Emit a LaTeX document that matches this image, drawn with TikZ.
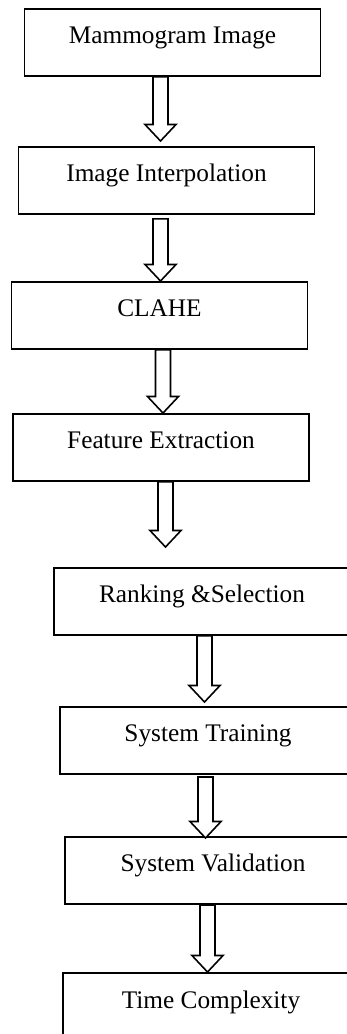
\documentclass[tikz,border=0pt]{standalone}
\usepackage{fontspec}
\setmainfont{Liberation Serif}
\usetikzlibrary{
    calc,
    positioning
}
\definecolor{lineBlack}{RGB}{0, 0, 0}
\definecolor{bgWhite}{RGB}{255, 255, 255}
\def\picW{6.94}
\def\picH{20.68}
\def\shaftW{0.15cm}
\def\headW{0.31cm}
\def\headL{0.33cm}
\tikzset{
    stage/.style={
        rectangle,
        draw=lineBlack,
        line width=1.1pt,
        fill=bgWhite,
        minimum width=5.92cm,
        inner xsep=0pt,
        inner ysep=0pt,
        text height=0.70cm,
        text depth=0.64cm,
        text=lineBlack,
        font=\fontsize{14.4}{17}\selectfont
    },
    blockArrow/.style={
        draw=lineBlack,
        line width=0.9pt,
        fill=bgWhite,
        line join=miter
    }
}
% hollow block arrow: source, target, x shift, start offset, tip offset
\newcommand{\flowArrow}[5]{%
    \draw[blockArrow] let \p1=($(#1.south)+(#3,#4)$), \p2=($(#2.north)+(0,#5)$) in
        (\x1-\shaftW,\y1) -- (\x1-\shaftW,\y2+\headL) -- (\x1-\headW,\y2+\headL)
        -- (\x1,\y2) -- (\x1+\headW,\y2+\headL) -- (\x1+\shaftW,\y2+\headL)
        -- (\x1+\shaftW,\y1) -- cycle;
}

\begin{document}
\begin{tikzpicture}
    \useasboundingbox (0,0) rectangle (\picW, \picH);
    \fill[bgWhite] (0,0) rectangle (\picW, \picH);
    \clip (0,0) rectangle (\picW, \picH);

    % Pipeline stages
    \node[stage] (mammo) at (3.45, 19.83) {Mammogram Image};
    \node[stage] (interp) at (3.33, 17.07) {Image Interpolation};
    \node[stage] (clahe) at (3.19, 14.37) {CLAHE};
    \node[stage] (feature) at (3.22, 11.73) {Feature Extraction};
    \node[stage] (ranking) at (4.04, 8.65) {Ranking \&Selection};
    \node[stage] (training) at (4.16, 5.87) {System Training};
    \node[stage] (validation) at (4.26, 3.27) {System Validation};
    \node[stage] (complexity) at (4.22, 0.55) {Time Complexity};

    % Arrows between stages
    \flowArrow{mammo}{interp}{-0.24}{0}{0.10}
    \flowArrow{interp}{clahe}{-0.12}{-0.08}{0}
    \flowArrow{clahe}{feature}{0.07}{0}{0}
    \flowArrow{feature}{ranking}{0.09}{0}{0.40}
    \flowArrow{ranking}{training}{0.05}{0}{0.08}
    \flowArrow{training}{validation}{-0.05}{-0.04}{-0.04}
    \flowArrow{validation}{complexity}{-0.11}{0}{0}
\end{tikzpicture}
\end{document}
